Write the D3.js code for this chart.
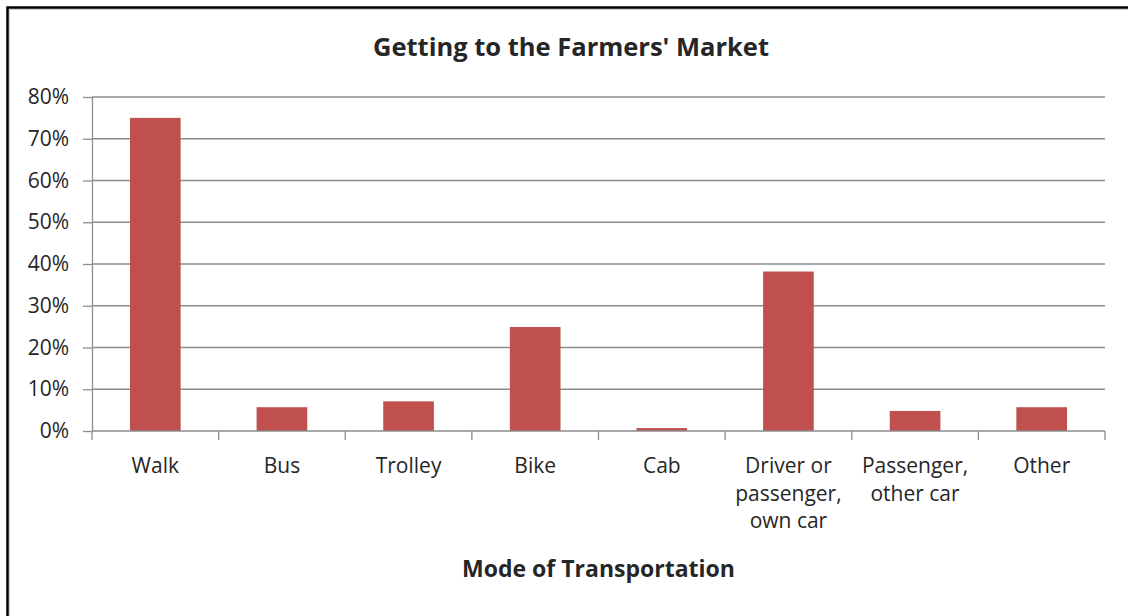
<!DOCTYPE html>
<html>
  <head>
    <title>Getting to the Farmers' Market</title>
    <style type="text/css">
        body{
            margin: 0;
            background: #fff;
        }
        text{
            font-family: "Open Sans", sans-serif;
            fill: #262626;
        }
        .grid line{
            stroke: #8c8c8c;
            stroke-width: 1.3px;
        }
        .axis path, .axis line{
            stroke: #8c8c8c;
            stroke-width: 1.3px;
        }
    </style>
  </head>
  <body>
    <div id="chart"></div>

    <script src="https://d3js.org/d3.v7.min.js"></script>
    <script>
        // chart data
        var modes = ["Walk", "Bus", "Trolley", "Bike", "Cab",
                     "Driver or passenger, own car", "Passenger, other car", "Other"];
        var modeLines = [["Walk"], ["Bus"], ["Trolley"], ["Bike"], ["Cab"],
                         ["Driver or", "passenger,", "own car"], ["Passenger,", "other car"], ["Other"]];
        var shares = [0.75, 0.057, 0.071, 0.249, 0.007, 0.382, 0.048, 0.057];
        var yTicks = [0, 0.1, 0.2, 0.3, 0.4, 0.5, 0.6, 0.7, 0.8];

        var width = 1128, height = 616;
        var plotLeft = 92, plotRight = 1105, plotTop = 97, plotBottom = 431;

        var svg = d3.select("#chart").append("svg")
            .attr("width", width)
            .attr("height", height);

        // outer frame (cropped at right and bottom)
        svg.append("path")
            .attr("d", "M7.5," + height + "V7.5H" + width)
            .attr("fill", "none")
            .attr("stroke", "#000")
            .attr("stroke-width", 2.5);
        svg.append("path")
            .attr("d", "M9.5," + height + "V9.5H" + width)
            .attr("fill", "none")
            .attr("stroke", "#c8c8c8")
            .attr("stroke-width", 1);

        var x = d3.scaleBand().domain(modes).range([plotLeft, plotRight]).paddingInner(0.6).paddingOuter(0.3);
        var y = d3.scaleLinear().domain([0, 0.8]).range([plotBottom, plotTop]);

        // horizontal gridlines
        svg.append("g").attr("class", "grid")
            .selectAll("line")
            .data(yTicks.slice(1))
            .enter().append("line")
            .attr("x1", plotLeft).attr("x2", plotRight)
            .attr("y1", (d) => y(d)).attr("y2", (d) => y(d));

        // y axis
        var yAxis = svg.append("g").attr("class", "axis")
            .attr("transform", "translate(" + plotLeft + ",0)")
            .call(d3.axisLeft(y).tickValues(yTicks).tickFormat(d3.format(".0%")).tickSize(9).tickSizeOuter(0));
        yAxis.selectAll("text")
            .attr("x", -23)
            .style("font-family", "Open Sans, sans-serif")
            .style("font-size", "21px")
            .style("fill", "#262626");

        // bars
        svg.append("g")
            .selectAll("rect")
            .data(shares)
            .enter().append("rect")
            .attr("x", (d, i) => x(modes[i]))
            .attr("y", (d) => y(d))
            .attr("width", x.bandwidth())
            .attr("height", (d) => plotBottom - y(d))
            .attr("fill", "#c0504d");

        // x axis with category separators
        var step = (plotRight - plotLeft) / modes.length;
        var xAxis = svg.append("g").attr("class", "axis");
        xAxis.append("line")
            .attr("x1", plotLeft).attr("x2", plotRight)
            .attr("y1", plotBottom).attr("y2", plotBottom);
        xAxis.selectAll(".sep")
            .data(d3.range(modes.length + 1))
            .enter().append("line")
            .attr("class", "sep")
            .attr("x1", (d) => plotLeft + d * step).attr("x2", (d) => plotLeft + d * step)
            .attr("y1", plotBottom).attr("y2", plotBottom + 9);

        // category labels
        var labels = svg.append("g")
            .selectAll("text")
            .data(modeLines)
            .enter().append("text")
            .attr("text-anchor", "middle")
            .attr("x", (d, i) => x(modes[i]) + x.bandwidth() / 2)
            .attr("y", 473)
            .style("font-size", "21px");
        labels.selectAll("tspan")
            .data((d) => d)
            .enter().append("tspan")
            .attr("x", function () { return d3.select(this.parentNode).attr("x"); })
            .attr("dy", (d, i) => i === 0 ? 0 : 27.5)
            .text((d) => d);

        // titles
        svg.append("text")
            .attr("x", 571).attr("y", 56)
            .attr("text-anchor", "middle")
            .style("font-size", "25.5px")
            .style("font-weight", "bold")
            .text("Getting to the Farmers' Market");

        svg.append("text")
            .attr("x", (plotLeft + plotRight) / 2).attr("y", 577)
            .attr("text-anchor", "middle")
            .style("font-size", "23px")
            .style("font-weight", "bold")
            .text("Mode of Transportation");
    </script>
  </body>
</html>
